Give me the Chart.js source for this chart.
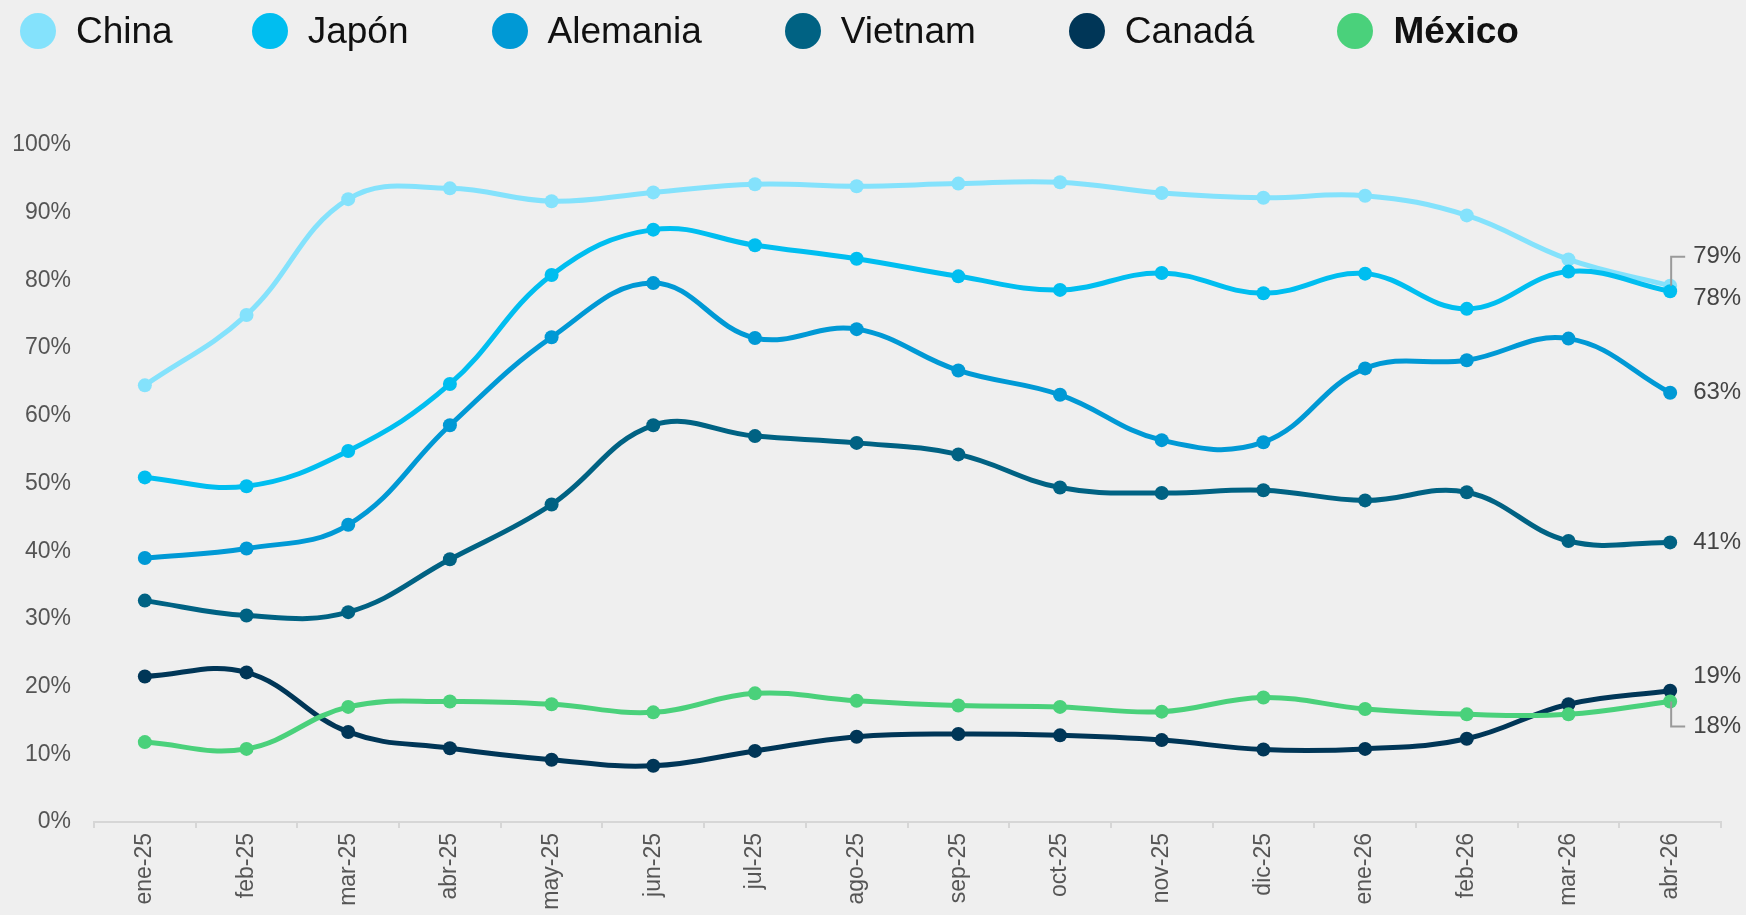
<!DOCTYPE html>
<html>
<head>
<meta charset="utf-8">
<script src="https://cdn.jsdelivr.net/npm/chart.js@4.4.1/dist/chart.umd.min.js"></script>
<style>
  html, body { margin: 0; padding: 0; background: #efefef; }
  body { width: 1746px; height: 915px; position: relative; overflow: hidden; font-family: "Liberation Sans", Arial, sans-serif; }
  #legend { position: absolute; left: 20px; top: 13px; height: 36px; display: flex; align-items: center; }
  .item { display: flex; align-items: center; }
  .dot { width: 36px; height: 36px; border-radius: 50%; margin-right: 20px; }
  .lbl { font-size: 37px; color: #111; line-height: 36px; }
  #wrap { position: absolute; left: 0; top: 0; width: 1746px; height: 915px; }
</style>
</head>
<body>
<div id="wrap"><canvas id="c" width="1746" height="915"></canvas></div>
<div id="legend"></div>
<script>
// ---- data ----
const months = ['ene-25','feb-25','mar-25','abr-25','may-25','jun-25','jul-25','ago-25','sep-25','oct-25','nov-25','dic-25','ene-26','feb-26','mar-26','abr-26'];
const seriesNames = ['China','Japón','Alemania','Vietnam','Canadá','México'];
const china    = [64.5,74.9,92.0,93.6,91.7,93.0,94.2,93.9,94.3,94.5,92.9,92.2,92.5,89.6,83.1,79.2];
const japon    = [50.9,49.6,54.8,64.7,80.8,87.5,85.2,83.2,80.6,78.6,81.1,78.1,81.0,75.8,81.3,78.4];
const alemania = [39.0,40.4,43.9,58.6,71.6,79.6,71.5,72.8,66.7,63.1,56.4,56.1,67.0,68.2,71.4,63.4];
const vietnam  = [32.7,30.5,31.0,38.8,46.9,58.6,57.0,56.0,54.3,49.4,48.6,49.0,47.5,48.7,41.5,41.3];
const canada   = [21.5,22.1,13.3,10.9,9.2,8.3,10.5,12.6,13.0,12.8,12.1,10.7,10.8,12.3,17.4,19.4];
const mexico   = [11.8,10.8,17.0,17.8,17.4,16.2,19.0,17.9,17.2,17.0,16.3,18.4,16.7,15.9,15.9,17.8];
const yTickValues = [0,10,20,30,40,50,60,70,80,90,100];
const highlighted = 'México';

// ---- styles ----
const seriesValues = [china, japon, alemania, vietnam, canada, mexico];
const colors = ['#84e2fc','#00bef0','#0099d5','#006283','#003657','#4ad17b'];
const legendGaps = [79, 83, 83, 93, 83, 0];
const endLabelShift = [-29, 7, 0, 0, -14, 25]; // pixel nudges to avoid overlapping end labels

// legend (HTML, real text)
const legendEl = document.getElementById('legend');
seriesNames.forEach((n, i) => {
  const it = document.createElement('div'); it.className = 'item';
  it.style.marginRight = legendGaps[i] + 'px';
  const d = document.createElement('div'); d.className = 'dot'; d.style.background = colors[i];
  const t = document.createElement('span'); t.className = 'lbl'; t.textContent = n;
  if (n === highlighted) t.style.fontWeight = 'bold';
  it.appendChild(d); it.appendChild(t); legendEl.appendChild(it);
});

const endLabels = {
  id: 'endLabels',
  afterDatasetsDraw(chart) {
    const ctx = chart.ctx;
    ctx.save();
    chart.data.datasets.forEach((ds, i) => {
      const meta = chart.getDatasetMeta(i);
      const pt = meta.data[meta.data.length - 1];
      const v = ds.data[ds.data.length - 1];
      const shift = endLabelShift[i];
      const ly = pt.y + shift;
      if (Math.abs(shift) > 15) {
        ctx.beginPath();
        ctx.strokeStyle = '#9a9a9a';
        ctx.lineWidth = 2;
        ctx.moveTo(pt.x + 1, pt.y);
        ctx.lineTo(pt.x + 1, ly);
        ctx.lineTo(pt.x + 15, ly);
        ctx.stroke();
      }
      ctx.fillStyle = '#444';
      ctx.font = '24px "Liberation Sans", Arial, sans-serif';
      ctx.textAlign = 'left';
      ctx.textBaseline = 'middle';
      ctx.fillText(Math.round(v) + '%', pt.x + 23, ly);
    });
    ctx.restore();
  }
};

new Chart(document.getElementById('c'), {
  type: 'line',
  data: {
    labels: months,
    datasets: seriesNames.map((n, i) => ({
      label: n,
      data: seriesValues[i],
      borderColor: colors[i],
      backgroundColor: colors[i],
      pointBackgroundColor: colors[i],
      pointBorderWidth: 0,
      pointRadius: 7,
      borderWidth: 5,
      tension: 0.4,
      fill: false,
      order: seriesNames.length - i
    }))
  },
  options: {
    responsive: false,
    animation: false,
    events: [],
    layout: { padding: { left: 0, right: 25, top: 145, bottom: 0 } },
    plugins: { legend: { display: false }, tooltip: { enabled: false } },
    scales: {
      x: {
        offset: true,
        grid: { offset: true, drawOnChartArea: false, drawTicks: true, tickLength: 6, color: '#d6d6d6', lineWidth: 2 },
        border: { display: true, color: '#d6d6d6', width: 2 },
        ticks: {
          autoSkip: false, minRotation: 90, maxRotation: 90, padding: 5,
          color: '#555', font: { family: '"Liberation Sans", Arial, sans-serif', size: 23 }
        },
        afterFit(s) { s.height = 93; }
      },
      y: {
        min: 0, max: 100,
        grid: { display: false, drawTicks: false },
        border: { display: false },
        afterBuildTicks(s) { s.ticks = yTickValues.map(v => ({ value: v })); },
        ticks: {
          padding: 23,
          color: '#555',
          font: { family: '"Liberation Sans", Arial, sans-serif', size: 23 },
          callback: v => v + '%'
        },
        afterFit(s) { s.width = 94; }
      }
    }
  },
  plugins: [endLabels]
});
</script>
</body>
</html>
